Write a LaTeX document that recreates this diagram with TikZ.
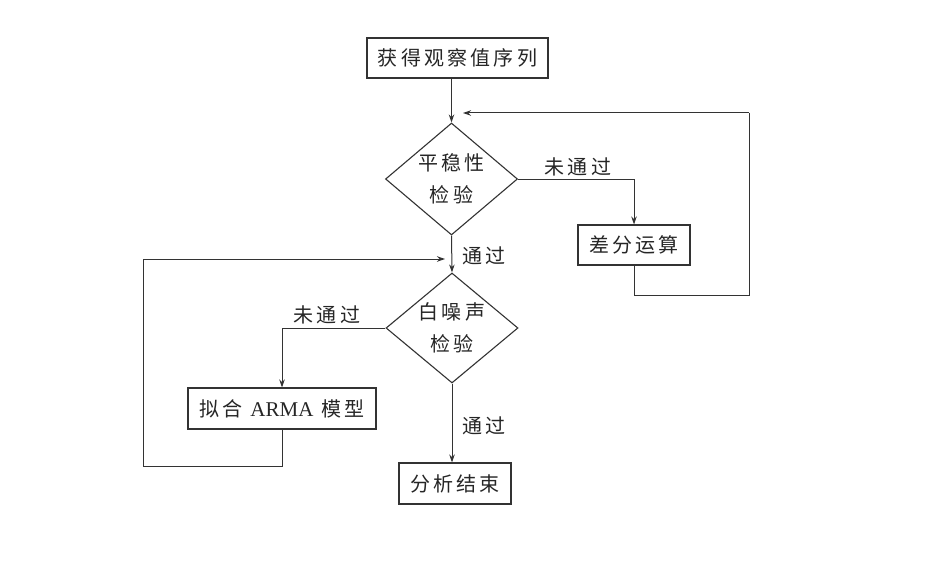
\documentclass[tikz,border=0pt]{standalone}
\usepackage{fontspec}
\newfontfamily\cjk[LetterSpace=16]{Noto Sans CJK SC}
\newfontfamily\latin{Liberation Serif}
\usetikzlibrary{shapes.geometric,arrows.meta}
\begin{document}
\begin{tikzpicture}[x=1pt,y=-1pt,
  every node/.style={font=\cjk\fontsize{20pt}{32pt}\selectfont, text=black!85},
  box/.style={draw=black!80, line width=1.1pt, rectangle, inner sep=0pt},
  dia/.style={draw=black!80, line width=1.1pt, diamond, inner sep=0pt, align=center},
  conn/.style={draw=black!80, line width=1pt},
  arr/.style={conn, -{Stealth[length=8pt,width=5.5pt]}},
  lbl/.style={inner sep=0pt}]
\useasboundingbox (0,0) rectangle (933,567);
\fill[white] (0,0) rectangle (933,567);
\node[box, minimum width=181pt, minimum height=40pt] (top) at (457.5,58) {获得观察值序列};
\node[dia, minimum width=132pt, minimum height=112pt, aspect=1.18] (d1) at (451.5,179) {平稳性\\检验};
\node[box, minimum width=112pt, minimum height=40pt] (dif) at (634,245) {差分运算};
\node[dia, minimum width=132pt, minimum height=110pt, aspect=1.2] (d2) at (452,328) {白噪声\\检验};
\node[box, minimum width=188pt, minimum height=41pt] (arma) at (282,408.5) {拟合 {\latin\fontsize{21pt}{24pt}\selectfont ARMA} 模型};
\node[box, minimum width=112pt, minimum height=41pt] (end) at (455,483.5) {分析结束};
\coordinate (fbA) at (749,295);
\coordinate (fbB) at (749,113);
\coordinate (fbT) at (463,113);
\coordinate (lpA) at (143,466);
\coordinate (lpB) at (143,259);
\coordinate (lpT) at (445,259);
\node[lbl] (n1) at (578,167) {未通过};
\node[lbl] (p1) at (484,256) {通过};
\node[lbl] (n2) at (327,315) {未通过};
\node[lbl] (p2) at (484,426) {通过};
\draw[arr] (top.south -| d1.north) -- (d1.north);
\draw[arr] (d1.east) -| (dif.north);
\draw[conn] (dif.south) -- (dif.south |- fbA) -- (fbA) -- (fbB);
\draw[arr] (fbB) -- (fbT);
\draw[arr] (d1.south) -- (d2.north);
\draw[arr] (d2.west) -| (arma.north);
\draw[conn] (arma.south) -- (arma.south |- lpA) -- (lpA) -- (lpB);
\draw[arr] (lpB) -- (lpT);
\draw[arr] (d2.south) -- (d2.south |- end.north);
\end{tikzpicture}
\end{document}
